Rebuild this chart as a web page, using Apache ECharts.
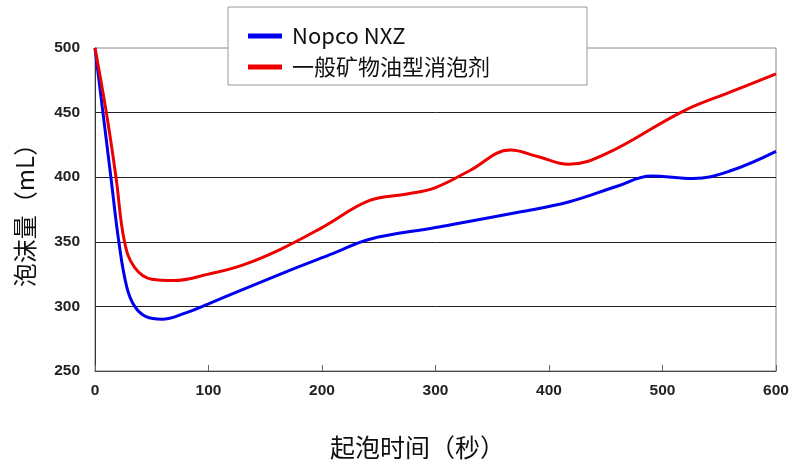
<!DOCTYPE html>
<html lang="zh">

<head>
    <meta charset="UTF-8">
    <title>泡沫量</title>
    <script src="https://cdn.jsdelivr.net/npm/echarts@6/dist/echarts.min.js"></script>
    <style>
        body { margin: 0; background: #fff; }
    </style>
</head>

<body>
    <div id="chart" style="width:792px;height:465px;"></div>
    <script>
        // 起泡时间(秒), 泡沫量(mL)
        let nopco = [
            [0, 500], [7, 450], [14, 400], [21, 350], [28, 315], [35, 300], [45, 292], [59, 290],
            [80, 295], [100, 302], [130, 313], [172, 328], [210, 341], [242, 352], [300, 361],
            [374, 373], [418, 381], [460, 393], [490, 401], [527, 399], [560, 405], [600, 420]
        ];
        let mineral = [
            [0, 500], [10, 450], [18.5, 400], [26, 350], [35, 330], [50, 321], [69, 320],
            [100, 325], [130, 332], [163, 344], [200, 361], [242, 382], [275, 387], [300, 392],
            [330, 405], [366, 421], [390, 416], [417, 410], [450, 418], [518, 451], [560, 466], [600, 480]
        ];
        let seriesNames = ['Nopco NXZ', '一般矿物油型消泡剂'];

        let chart = echarts.init(document.getElementById('chart'));
        let tickFont = { fontFamily: 'Liberation Sans', fontWeight: 'bold', fontSize: 15.5, color: '#222' };

        let option = {
            animation: false,
            grid: { left: 95, right: 16, top: 48, bottom: 93, show: true, borderColor: '#888', borderWidth: 1 },
            legend: {
                data: seriesNames,
                orient: 'vertical',
                left: 228,
                top: 7,
                padding: [18, 97, 7, 20],
                itemGap: 9,
                itemWidth: 34,
                itemHeight: 5,
                icon: 'rect',
                backgroundColor: '#fff',
                borderColor: '#999',
                borderWidth: 1,
                textStyle: { fontFamily: 'Noto Sans CJK SC', fontSize: 22, color: '#111', padding: [0, 0, 0, 5] },
                z: 10
            },
            xAxis: {
                type: 'value',
                min: 0,
                max: 600,
                interval: 100,
                name: '起泡时间（秒）',
                nameLocation: 'middle',
                nameGap: 64,
                nameTextStyle: { fontFamily: 'Noto Sans CJK SC', fontSize: 25, color: '#111', padding: [0, 36, 0, 0] },
                axisLine: { lineStyle: { color: '#444' } },
                axisTick: { inside: true, length: 6, lineStyle: { color: '#666' } },
                axisLabel: Object.assign({ margin: 12 }, tickFont),
                splitLine: { show: false }
            },
            yAxis: {
                type: 'value',
                min: 250,
                max: 500,
                interval: 50,
                name: '泡沫量（mL）',
                nameLocation: 'middle',
                nameGap: 58,
                nameRotate: 90,
                nameTextStyle: { fontFamily: 'Noto Sans CJK SC', fontSize: 24, color: '#111' },
                axisLine: { show: true, lineStyle: { color: '#333' } },
                axisTick: { show: false },
                axisLabel: Object.assign({ margin: 15 }, tickFont),
                splitLine: { show: true, showMinLine: false, showMaxLine: false, lineStyle: { color: '#222' } }
            },
            series: [{
                name: seriesNames[0],
                type: 'line',
                data: nopco,
                smooth: 0.4,
                showSymbol: false,
                itemStyle: { color: '#0000ee' },
                lineStyle: { color: '#0000ee', width: 3 }
            }, {
                name: seriesNames[1],
                type: 'line',
                data: mineral,
                smooth: 0.4,
                showSymbol: false,
                itemStyle: { color: '#ee0000' },
                lineStyle: { color: '#ee0000', width: 3 }
            }]
        };

        chart.setOption(option);
    </script>
</body>

</html>
